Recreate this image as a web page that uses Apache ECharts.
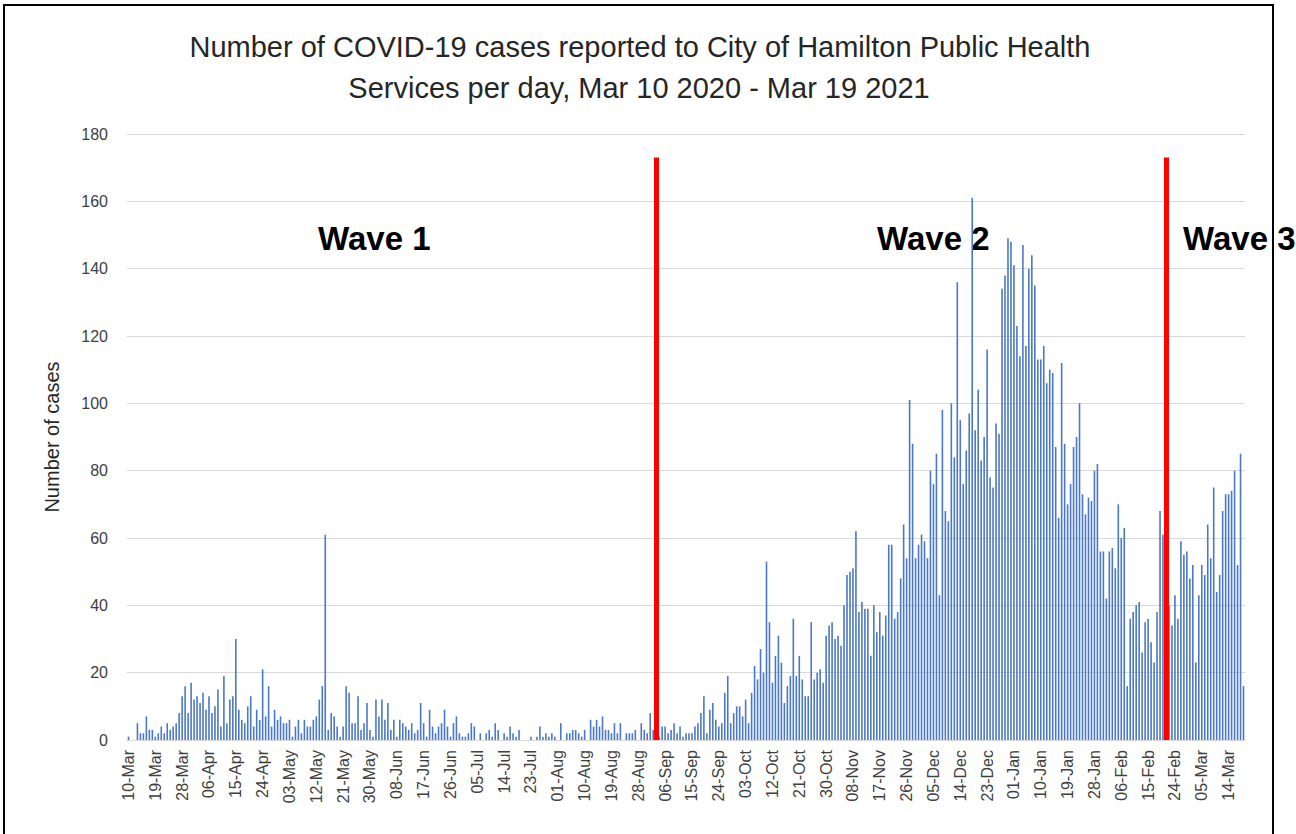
<!DOCTYPE html>
<html>
<head>
<meta charset="utf-8">
<script src="https://cdn.jsdelivr.net/npm/echarts@6/dist/echarts.min.js"></script>
<style>
  html, body { margin: 0; padding: 0; background: #ffffff; }
  #chart { width: 1296px; height: 834px; }
</style>
</head>
<body>
<div id="chart"></div>
<script>
// ---- Data (daily cases, Mar 10 2020 - Mar 19 2021) ----
var startDate = '2020-03-10';
var dayCount = 375;

var casesMarMay2020 = [1,0,0,5,2,2,7,3,3,1, 2,4,2,5,3,4,5,8,13,16, 8,17,12,13,11,14,9,13,8,10,
  15,4,19,5,12,13,30,9,6,5, 10,13,4,9,6,21,7,16,4,9, 6,7,5,5,6,1,4,6,2,6, 4,4,6,7,12,16,61,3,8,7, 4,1];
var casesMayJul2020 = [4,16,14,5,5,13,3,5,11,3, 1,12,7,12,6,11,3,6,1,6, 5,4,3,5,2,3,11,5,1,9,
  4,2,4,5,9,4,1,5,7,2, 1,1,2,5,4,0,2,0,2,3, 1,5,3,0,2,1,4,2];
var casesJulAug2020 = [1,3,0,0,0,1,0,1,4,1,2,1,2,1];
var casesAugOct2020 = [0,5,0,2,2,3,3,2,1,3, 0,6,4,6,4,7,3,3,2,5, 2,5,0,2,2,2,3,0,5,3,
  2,8,3,1,1,4,4,2,3,5, 2,4,1,2,2,2,4,5,8,13, 2,9,11,6,4,5,14,19,5,8, 10,10];
var casesOctNov2020 = [7,12,5,14,22,18,27,20,53,35, 17,25,31,23,11,16,19,36,19,25, 18,13,13,35,18,20,21,17,31,34,
  35,30,31,28,40,49,50,51,62,38, 41,39,39,25,40,32,38,31,37,58];
var casesNovDec2020 = [58,36,38,48,64,54,101,88,54,58, 61,59,54,80,76,85,43,98,68,65,
  100,84,136,95,76,86,97,161,92,104, 83,90,116,78,75,94,91,134,138,149];
var casesDecFeb2021 = [148,141,123,114,147,117,140,144,135,113, 113,117,106,110,109,87,66,112,88,70,
  76,87,90,100,73,67,72,71,80,82, 56,56,42,56,57,51,70,60,63,16];
var casesFebMar2021 = [36,38,40,41,26,35,36,29,23,38, 68,61,45,40,34,43,36,59,55,56,
  48,52,23,43,52,49,64,54,75,44, 49,68,73,73,74,80,52,85,16];

var monthNames = ['Jan','Feb','Mar','Apr','May','Jun','Jul','Aug','Sep','Oct','Nov','Dec'];
var waveBoundaries = ['2020-09-03', '2021-02-21'];
var waveLabels = ['Wave 1', 'Wave 2', 'Wave 3'];
var titleLines = ['Number of COVID-19 cases reported to City of Hamilton Public Health',
                  'Services per day, Mar 10 2020 - Mar 19 2021'];

// ---- Build ----
var cases = [].concat(casesMarMay2020, casesMayJul2020, casesJulAug2020, casesAugOct2020,
  casesOctNov2020, casesNovDec2020, casesDecFeb2021, casesFebMar2021);

var categories = [];
var t0 = Date.parse(startDate + 'T00:00:00Z');
for (var i = 0; i < dayCount; i++) {
  var d = new Date(t0 + i * 86400000);
  var mm = ('0' + (d.getUTCMonth() + 1)).slice(-2);
  var dd = ('0' + d.getUTCDate()).slice(-2);
  categories.push(d.getUTCFullYear() + '-' + mm + '-' + dd);
}
function fmtDate(v) {
  var p = v.split('-');
  return p[2] + '-' + monthNames[parseInt(p[1], 10) - 1];
}

var FONT = '"Liberation Sans", Arial, sans-serif';
var chart = echarts.init(document.getElementById('chart'), null, { renderer: 'svg' });

chart.setOption({
  animation: false,
  backgroundColor: '#ffffff',
  grid: { left: 127, right: 51, top: 134, bottom: 94, containLabel: false },
  xAxis: {
    type: 'category',
    data: categories,
    boundaryGap: true,
    axisLine: { show: true, lineStyle: { color: '#d9d9d9', width: 1 } },
    axisTick: { show: false },
    axisLabel: {
      interval: 8,
      rotate: 90,
      margin: 10,
      color: '#404040',
      fontSize: 16,
      fontFamily: FONT,
      formatter: fmtDate
    },
    splitLine: { show: false }
  },
  yAxis: {
    type: 'value',
    min: 0,
    max: 180,
    interval: 20,
    name: 'Number of cases',
    nameLocation: 'middle',
    nameGap: 65,
    nameRotate: 90,
    nameTextStyle: { color: '#262626', fontSize: 20, fontFamily: FONT },
    axisLine: { show: false },
    axisTick: { show: false },
    axisLabel: { color: '#404040', fontSize: 16, fontFamily: FONT, margin: 19 },
    splitLine: { show: true, lineStyle: { color: '#d9d9d9', width: 1 } }
  },
  series: [{
    type: 'bar',
    data: cases,
    barWidth: 1.6,
    itemStyle: { color: '#4a78c8' },
    silent: true,
    markLine: {
      silent: true,
      symbol: ['none', 'none'],
      label: { show: false },
      lineStyle: { color: '#ff0000', width: 5, type: 'solid' },
      data: waveBoundaries.map(function (dt) {
        return [{ coord: [dt, 0] }, { coord: [dt, 173] }];
      })
    }
  }],
  graphic: [
    { type: 'rect', shape: { x: 4, y: 5, width: 1269, height: 845 },
      style: { fill: 'none', stroke: '#000000', lineWidth: 2 }, silent: true, z: 100 },
    { type: 'text', x: 640, y: 47, style: { text: titleLines[0], fill: '#262626',
      font: '29px ' + FONT, textAlign: 'center', textVerticalAlign: 'middle' } },
    { type: 'text', x: 639, y: 88, style: { text: titleLines[1], fill: '#262626',
      font: '29px ' + FONT, textAlign: 'center', textVerticalAlign: 'middle' } },
    { type: 'text', x: 318, y: 238, style: { text: waveLabels[0], fill: '#000000',
      font: 'bold 33px ' + FONT, textAlign: 'left', textVerticalAlign: 'middle' } },
    { type: 'text', x: 877, y: 238, style: { text: waveLabels[1], fill: '#000000',
      font: 'bold 33px ' + FONT, textAlign: 'left', textVerticalAlign: 'middle' } },
    { type: 'text', x: 1183, y: 238, style: { text: waveLabels[2], fill: '#000000',
      font: 'bold 33px ' + FONT, textAlign: 'left', textVerticalAlign: 'middle' } }
  ]
});
</script>
</body>
</html>
